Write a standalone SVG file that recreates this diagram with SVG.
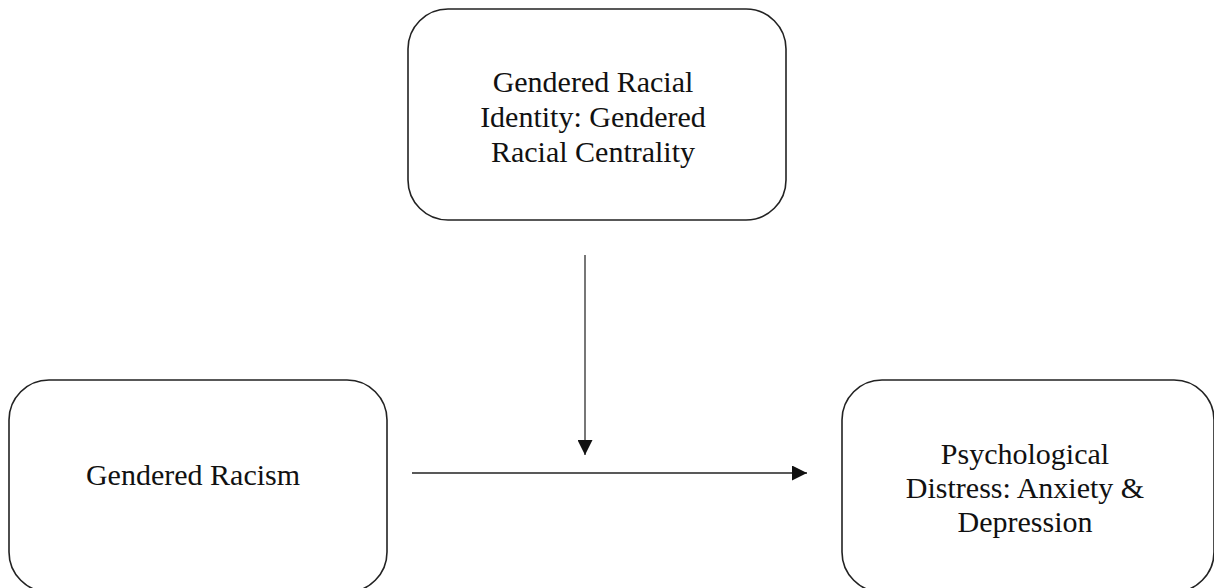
<svg xmlns="http://www.w3.org/2000/svg" width="1214" height="588" viewBox="0 0 1214 588">
<defs>
<style>
.box{fill:#fff;stroke:#222;stroke-width:1.6}
.t{font-family:"Liberation Serif","Times New Roman",serif;font-size:30px;fill:#111;text-anchor:middle}
.c{stroke:#222;stroke-width:1.6;fill:none}
</style>
<marker id="ah" viewBox="0 0 10 10" refX="10" refY="5" markerWidth="15" markerHeight="15" markerUnits="userSpaceOnUse" orient="auto">
<path d="M0,0 L10,5 L0,10 Z" fill="#111"/>
</marker>
</defs>
<rect width="1214" height="588" fill="#fff"/>
<g id="identity">
<rect class="box" x="408" y="9" width="378" height="211" rx="40" ry="40"/>
<text class="t" x="593" y="92">Gendered Racial</text>
<text class="t" x="593" y="127">Identity: Gendered</text>
<text class="t" x="593" y="162">Racial Centrality</text>
</g>
<g id="racism">
<rect class="box" x="9" y="380" width="378" height="212" rx="40" ry="40"/>
<text class="t" x="193" y="485">Gendered Racism</text>
</g>
<g id="distress">
<rect class="box" x="842" y="380" width="372" height="212" rx="40" ry="40"/>
<text class="t" x="1025" y="464">Psychological</text>
<text class="t" x="1025" y="498">Distress: Anxiety &amp;</text>
<text class="t" x="1025" y="532">Depression</text>
</g>
<g id="connectors">
<line class="c" x1="585" y1="255" x2="585" y2="455" marker-end="url(#ah)" style="stroke:#555"/>
<line class="c" x1="412" y1="473" x2="807" y2="473" marker-end="url(#ah)"/>
</g>
</svg>
